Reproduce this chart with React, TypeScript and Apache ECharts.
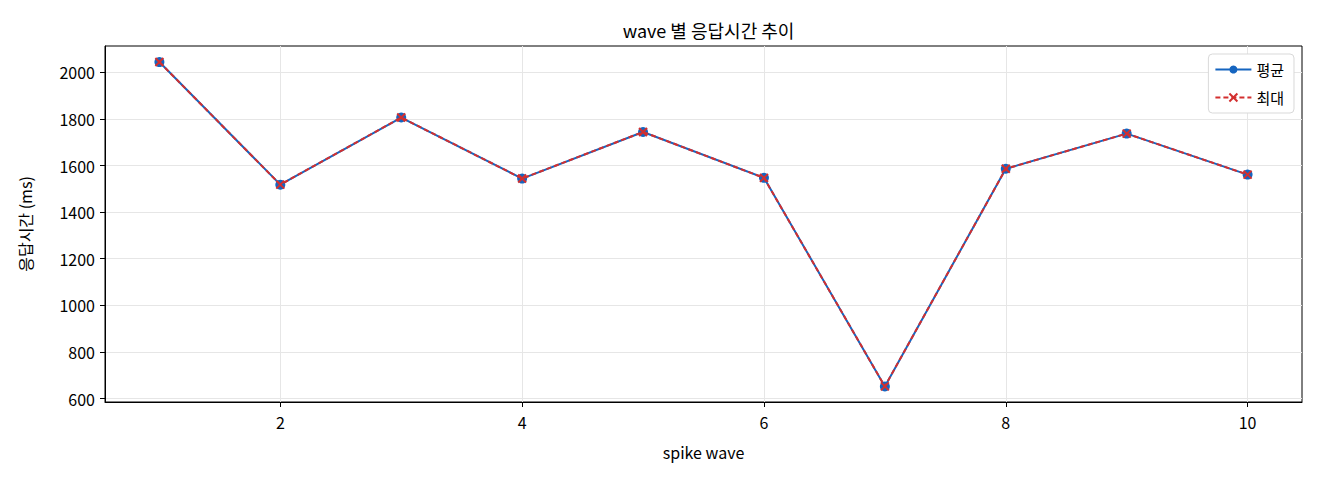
import React, { useEffect, useRef } from "react";
import * as echarts from "echarts";

const waves = [1, 2, 3, 4, 5, 6, 7, 8, 9, 10];
const avgMs = [2044, 1518, 1806, 1544, 1744, 1547, 652, 1586, 1737, 1561];
const maxMs = [2044, 1518, 1806, 1544, 1744, 1547, 652, 1586, 1737, 1561];
const xTicks = [2, 4, 6, 8, 10];
const yTicks = [600, 800, 1000, 1200, 1400, 1600, 1800, 2000];

const FONT = "'Noto Sans CJK KR', 'Noto Sans', sans-serif";
const BLUE = "#1565C0";
const RED = "#D32F2F";

export default function App() {
  const ref = useRef<HTMLDivElement>(null);
  useEffect(() => {
    const chart = echarts.init(ref.current!, null, { renderer: "svg" });
    const gridLeft = 105;
    const gridRight = 18;
    const centerX = gridLeft + (1320 - gridLeft - gridRight) / 2;
    chart.setOption({
      animation: false,
      backgroundColor: "#ffffff",
      textStyle: { fontFamily: FONT },
      title: {
        text: "wave 별 응답시간 추이",
        left: centerX,
        textAlign: "center",
        top: 16,
        textStyle: { fontFamily: FONT, fontSize: 18, fontWeight: "normal", color: "#000" },
      },
      legend: {
        orient: "vertical",
        right: 26,
        top: 54,
        itemWidth: 36,
        itemHeight: 10,
        itemGap: 13,
        padding: [8, 10, 8, 6],
        borderColor: "#d9d9d9",
        borderWidth: 1,
        borderRadius: 4,
        backgroundColor: "#ffffff",
        textStyle: { fontFamily: FONT, fontSize: 15, color: "#000" },
        data: ["평균", "최대"],
      },
      grid: {
        left: gridLeft,
        right: gridRight,
        top: 46,
        bottom: 78,
        show: true,
        borderColor: "#000",
        borderWidth: 1,
        containLabel: false,
      },
      xAxis: {
        type: "value",
        min: 0.55,
        max: 10.45,
        name: "spike wave",
        nameLocation: "middle",
        nameGap: 42,
        nameTextStyle: { fontFamily: FONT, fontSize: 16, color: "#000" },
        axisLine: { show: true, lineStyle: { color: "#000", width: 1 } },
        axisTick: {
          show: true,
          inside: false,
          length: 5,
          lineStyle: { color: "#000" },
          customValues: xTicks,
        },
        axisLabel: {
          customValues: xTicks,
          formatter: (v: number) => String(v),
          fontFamily: FONT,
          fontSize: 16,
          color: "#000",
          margin: 12,
        },
        splitLine: { show: true, lineStyle: { color: "#e6e6e6", width: 1 } },
      },
      yAxis: {
        type: "value",
        min: 585,
        max: 2113,
        name: "응답시간 (ms)",
        nameLocation: "middle",
        nameGap: 72,
        nameRotate: 90,
        nameTextStyle: { fontFamily: FONT, fontSize: 16, color: "#000" },
        axisLine: { show: true, lineStyle: { color: "#000", width: 1 } },
        axisTick: {
          show: true,
          inside: false,
          length: 5,
          lineStyle: { color: "#000" },
          customValues: yTicks,
        },
        axisLabel: {
          customValues: yTicks,
          formatter: (v: number) => String(v),
          fontFamily: FONT,
          fontSize: 16,
          color: "#000",
          margin: 10,
        },
        splitLine: { show: true, lineStyle: { color: "#e6e6e6", width: 1 } },
      },
      series: [
        {
          name: "평균",
          type: "line",
          data: waves.map((w, i) => [w, avgMs[i]]),
          symbol: "circle",
          symbolSize: 10,
          lineStyle: { color: BLUE, width: 2 },
          itemStyle: { color: BLUE },
          z: 2,
        },
        {
          name: "최대",
          type: "line",
          data: waves.map((w, i) => [w, maxMs[i]]),
          symbol: "path://M0,0 L10,10 M10,0 L0,10",
          symbolSize: 8,
          lineStyle: { color: RED, width: 2, type: [5, 3] },
          itemStyle: { color: RED, borderColor: RED, borderWidth: 2 },
          z: 3,
        },
      ],
    });
    return () => chart.dispose();
  }, []);
  return (
    <div
      ref={ref}
      style={{ position: "fixed", left: 0, top: 0, width: 1320, height: 480 }}
    />
  );
}
